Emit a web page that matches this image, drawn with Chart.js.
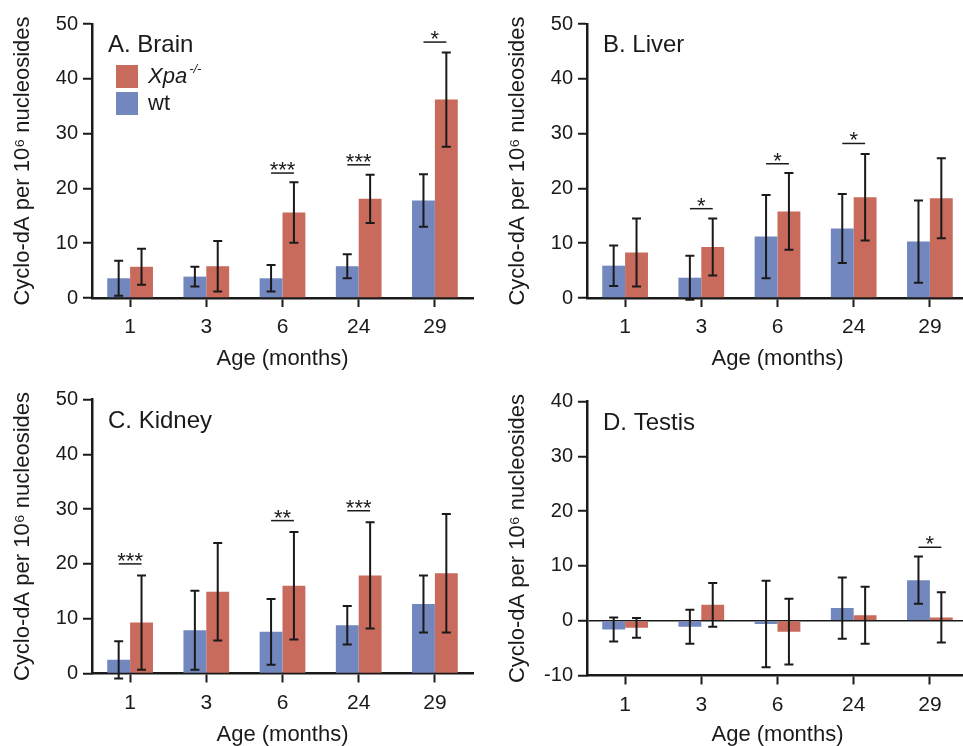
<!DOCTYPE html>
<html>
<head>
<meta charset="utf-8">
<script src="https://cdn.jsdelivr.net/npm/chart.js"></script>
<style>
  html, body { margin: 0; padding: 0; background: #fff; overflow: hidden; }
  #wrap { position: relative; width: 963px; height: 746px; overflow: hidden; background: #fff; }
  canvas { position: absolute; }
</style>
</head>
<body>
<div id="wrap">
  <canvas id="brain" width="480" height="370" style="left:0;top:0"></canvas>
  <canvas id="liver" width="480" height="370" style="left:495px;top:0"></canvas>
  <canvas id="kidney" width="480" height="376" style="left:0;top:370px"></canvas>
  <canvas id="testis" width="480" height="376" style="left:495px;top:370px"></canvas>
</div>
<script>
// ages on the x axis
const ages = ['1', '3', '6', '24', '29'];

// A. Brain
const brainWt = [3.6, 3.9, 3.6, 5.8, 17.8];
const brainWtErr = [3.2, 1.8, 2.4, 2.2, 4.8];
const brainXpa = [5.7, 5.8, 15.6, 18.1, 36.2];
const brainXpaErr = [3.3, 4.6, 5.5, 4.4, 8.6];
const brainSig = ['', '', '***', '***', '*'];
const brainSigY = [null, null, 22.8, 24.3, 46.7];

// B. Liver
const liverWt = [5.9, 3.7, 11.2, 12.7, 10.3];
const liverWtErr = [3.7, 4.0, 7.6, 6.3, 7.5];
const liverXpa = [8.3, 9.3, 15.8, 18.4, 18.2];
const liverXpaErr = [6.2, 5.2, 7.0, 7.9, 7.3];
const liverSig = ['', '*', '*', '*', ''];
const liverSigY = [null, 16.3, 24.5, 28.2, null];

// C. Kidney
const kidneyWt = [2.5, 7.9, 7.6, 8.8, 12.7];
const kidneyWtErr = [3.4, 7.2, 6.0, 3.5, 5.2];
const kidneyXpa = [9.3, 14.9, 16.0, 17.9, 18.3];
const kidneyXpaErr = [8.6, 8.9, 9.8, 9.7, 10.8];
const kidneySig = ['***', '', '**', '***', ''];
const kidneySigY = [20.0, null, 27.9, 29.7, null];

// D. Testis
const testisWt = [-1.6, -1.1, -0.6, 2.3, 7.4];
const testisWtErr = [2.2, 3.1, 7.9, 5.6, 4.3];
const testisXpa = [-1.3, 2.9, -2.0, 1.0, 0.6];
const testisXpaErr = [1.8, 4.0, 6.0, 5.2, 4.6];
const testisSig = ['', '', '', '', '*'];
const testisSigY = [null, null, null, null, 13.4];

const blue = '#7387bf';
const red = '#c86a5c';
const ink = '#1a1a1a';
const fontFamily = "'Liberation Sans', Arial, Helvetica, sans-serif";

Chart.defaults.font.family = fontFamily;
Chart.defaults.color = ink;

// error bars drawn on top of each bar
const errorBars = {
    id: 'errorBars',
    afterDatasetsDraw(chart) {
        const ctx = chart.ctx;
        const y = chart.scales.y;
        chart.data.datasets.forEach((ds, di) => {
            chart.getDatasetMeta(di).data.forEach((bar, i) => {
                const top = y.getPixelForValue(ds.data[i] + ds.errors[i]);
                const bot = y.getPixelForValue(ds.data[i] - ds.errors[i]);
                ctx.save();
                ctx.strokeStyle = ink;
                ctx.lineWidth = 2;
                ctx.beginPath();
                ctx.moveTo(bar.x, top); ctx.lineTo(bar.x, bot);
                ctx.moveTo(bar.x - 4.5, top); ctx.lineTo(bar.x + 4.5, top);
                ctx.moveTo(bar.x - 4.5, bot); ctx.lineTo(bar.x + 4.5, bot);
                ctx.stroke();
                ctx.restore();
            });
        });
    }
};

// significance brackets with stars
const sigMarks = {
    id: 'sigMarks',
    afterDatasetsDraw(chart, args, opts) {
        const ctx = chart.ctx;
        const y = chart.scales.y;
        const a = chart.getDatasetMeta(0).data;
        const b = chart.getDatasetMeta(1).data;
        opts.stars.forEach((s, i) => {
            if (!s) return;
            const py = y.getPixelForValue(opts.levels[i]);
            ctx.save();
            ctx.strokeStyle = ink;
            ctx.lineWidth = 1.5;
            ctx.beginPath();
            ctx.moveTo(a[i].x, py); ctx.lineTo(b[i].x, py);
            ctx.stroke();
            ctx.fillStyle = ink;
            ctx.font = '22px ' + fontFamily;
            ctx.textAlign = 'center';
            ctx.textBaseline = 'alphabetic';
            ctx.fillText(s, (a[i].x + b[i].x) / 2, py + 4);
            ctx.restore();
        });
    }
};

// panel label and (optional) legend inside the plot area
const panelLabel = {
    id: 'panelLabel',
    afterDraw(chart, args, opts) {
        const ctx = chart.ctx;
        const area = chart.chartArea;
        ctx.save();
        ctx.fillStyle = ink;
        ctx.font = '24px ' + fontFamily;
        ctx.textBaseline = 'alphabetic';
        ctx.fillText(opts.text, area.left + 16, area.top + 28);
        if (opts.legend) {
            const x = area.left + 24;
            ctx.fillStyle = red;
            ctx.fillRect(x, area.top + 41, 22, 23);
            ctx.fillStyle = blue;
            ctx.fillRect(x, area.top + 68, 22, 23);
            ctx.fillStyle = ink;
            ctx.textBaseline = 'middle';
            ctx.font = 'italic 22px ' + fontFamily;
            ctx.fillText('Xpa', x + 32, area.top + 53);
            const w = ctx.measureText('Xpa').width;
            ctx.font = 'italic 13px ' + fontFamily;
            ctx.fillText('-/-', x + 34 + w, area.top + 45);
            ctx.font = '22px ' + fontFamily;
            ctx.fillText('wt', x + 32, area.top + 80);
        }
        ctx.restore();
    }
};

function makePanel(id, label, wt, wtErr, xpa, xpaErr, sig, sigY, yMin, yMax, top, legend) {
    const canvas = document.getElementById(id);
    const bottom = canvas.height - (top + (yMax - yMin) * 5.48);
    new Chart(canvas, {
        type: 'bar',
        data: {
            labels: ages,
            datasets: [
                { label: 'wt', data: wt, errors: wtErr, backgroundColor: blue },
                { label: 'Xpa-/-', data: xpa, errors: xpaErr, backgroundColor: red },
            ],
        },
        options: {
            responsive: false,
            animation: false,
            layout: { padding: { top: top, right: 7, left: 0, bottom: 0 } },
            datasets: { bar: { categoryPercentage: 0.6, barPercentage: 1.0 } },
            scales: {
                x: {
                    offset: true,
                    grid: { offset: false, drawOnChartArea: false, tickColor: ink, tickLength: 9, tickWidth: 2 },
                    border: { color: ink, width: 2.5 },
                    ticks: { font: { size: 21 }, color: ink, padding: 8 },
                    title: { display: true, text: 'Age (months)', font: { size: 22 }, color: ink, padding: { top: 0, bottom: -2 } },
                    afterFit: (s) => { s.height = bottom; },
                },
                y: {
                    min: yMin,
                    max: yMax,
                    grid: {
                        drawOnChartArea: yMin < 0,
                        color: (c) => (c.tick && c.tick.value === 0 ? ink : 'rgba(0,0,0,0)'),
                        lineWidth: 1.5,
                        tickColor: ink, tickLength: 9, tickWidth: 2,
                    },
                    border: { color: ink, width: 2.5 },
                    ticks: { stepSize: 10, font: { size: 20 }, color: ink, padding: 5 },
                    title: { display: true, text: 'Cyclo-dA per 10⁶ nucleosides', font: { size: 22 }, color: ink, padding: { top: 10, bottom: 0 } },
                    afterFit: (s) => { s.width = 92; },
                },
            },
            plugins: {
                legend: { display: false },
                tooltip: { enabled: false },
                sigMarks: { stars: sig, levels: sigY },
                panelLabel: { text: label, legend: legend },
            },
        },
        plugins: [errorBars, sigMarks, panelLabel],
    });
}

makePanel('brain', 'A. Brain', brainWt, brainWtErr, brainXpa, brainXpaErr, brainSig, brainSigY, 0, 50, 24, true);
makePanel('liver', 'B. Liver', liverWt, liverWtErr, liverXpa, liverXpaErr, liverSig, liverSigY, 0, 50, 24, false);
makePanel('kidney', 'C. Kidney', kidneyWt, kidneyWtErr, kidneyXpa, kidneyXpaErr, kidneySig, kidneySigY, 0, 50, 29.5, false);
makePanel('testis', 'D. Testis', testisWt, testisWtErr, testisXpa, testisXpaErr, testisSig, testisSigY, -10, 40, 31.5, false);
</script>
</body>
</html>
